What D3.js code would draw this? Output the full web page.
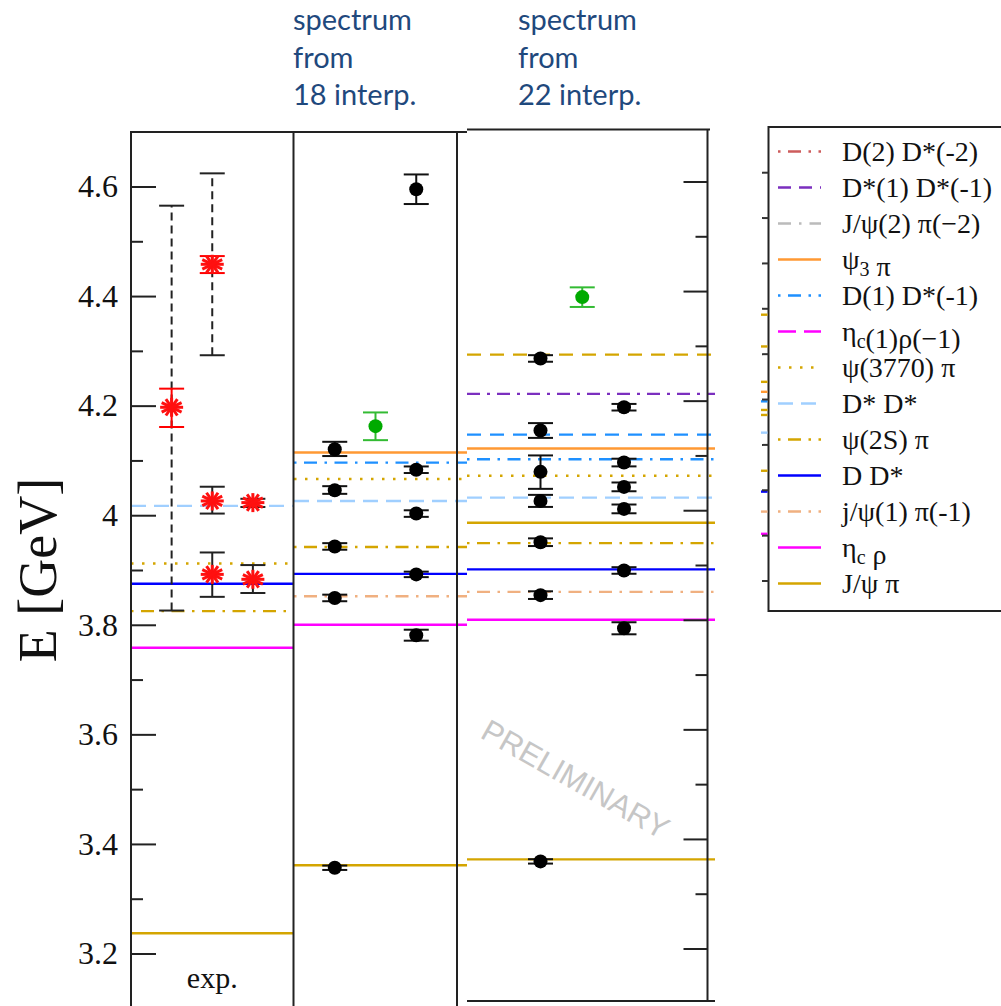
<!DOCTYPE html>
<html lang="en">
<head>
<meta charset="UTF-8">
<title>Spectrum from interpolators</title>
<script src="https://cdn.jsdelivr.net/npm/d3@7"></script>
<style>
  body{ margin:0; background:#fff; }
  svg{ display:block; }
</style>
</head>
<body>
<svg id="chart" width="1001" height="1006"></svg>
<script>
// ---------- data (energies in GeV) ----------
const yMajor = [3.2, 3.4, 3.6, 3.8, 4.0, 4.2, 4.4, 4.6];
const yMinor = [3.3, 3.5, 3.7, 3.9, 4.1, 4.3, 4.5];

const legendKeys = ['D2Ds2','Ds1Ds1','Jpsi2pi2','psi3pi','D1Ds1','etac1rho1','psi3770pi',
                    'DsDs','psi2Spi','DDs','jpsi1pi1','etacrho','Jpsipi'];
const legendLabels = ['D(2) D*(-2)','D*(1) D*(-1)','J/ψ(2) π(−2)','ψ_3 π','D(1) D*(-1)',
                      'η_c(1)ρ(−1)','ψ(3770) π','D* D*','ψ(2S) π','D D*','j/ψ(1) π(-1)','η_c ρ','J/ψ π'];

// non-interacting levels drawn as horizontal lines
const expLevels = [
  {key:'DsDs', E:4.017}, {key:'psi3770pi', E:3.912}, {key:'DDs', E:3.875},
  {key:'psi2Spi', E:3.825}, {key:'etacrho', E:3.758}, {key:'Jpsipi', E:3.237}
];
const interp18Levels = [
  {key:'psi3pi', E:4.1145}, {key:'D1Ds1', E:4.096}, {key:'psi3770pi', E:4.066},
  {key:'DsDs', E:4.026}, {key:'psi2Spi', E:3.942}, {key:'DDs', E:3.893},
  {key:'jpsi1pi1', E:3.852}, {key:'etacrho', E:3.800}, {key:'Jpsipi', E:3.361}
];
const interp22Levels = [
  {key:'goldDash', E:4.284}, {key:'Ds1Ds1plot', E:4.2124}, {key:'blueDash', E:4.138},
  {key:'psi3pi', E:4.1127}, {key:'D1Ds1', E:4.093}, {key:'psi3770pi', E:4.063},
  {key:'DsDs', E:4.023}, {key:'Jpsipi', E:3.977}, {key:'psi2Spi', E:3.940},
  {key:'DDs', E:3.892}, {key:'jpsi1pi1', E:3.851}, {key:'etacrho', E:3.800},
  {key:'Jpsipi', E:3.3626}
];

// experiment: star positions, statistical (red) bars, widths (dashed) and other bars
const expStars = [
  {col:'a', E:4.197}, {col:'b', E:4.458}, {col:'b', E:4.026},
  {col:'b', E:3.892}, {col:'c', E:4.023}, {col:'c', E:3.883}
];
const expStat = [ {col:'a', lo:4.161, hi:4.231}, {col:'b', lo:4.442, hi:4.473} ];
const expWidth = [ {col:'a', lo:3.826, hi:4.565}, {col:'b', lo:4.292, hi:4.624} ];
const expErr = [
  {col:'b', lo:4.003, hi:4.052}, {col:'b', lo:3.851, hi:3.932},
  {col:'c', lo:4.015, hi:4.030}, {col:'c', lo:3.858, hi:3.909}
];

// lattice levels: col a / c = two irreps, b = green level
const interp18Points = [
  {col:'a', E:4.1205, lo:4.108, hi:4.134}, {col:'a', E:4.0457, lo:4.039, hi:4.053},
  {col:'a', E:3.943, lo:3.937, hi:3.949}, {col:'a', E:3.849, lo:3.843, hi:3.855},
  {col:'a', E:3.3565, lo:3.3525, hi:3.3605},
  {col:'c', E:4.595, lo:4.568, hi:4.622}, {col:'c', E:4.083, lo:4.077, hi:4.089},
  {col:'c', E:4.003, lo:3.997, hi:4.009}, {col:'c', E:3.892, lo:3.887, hi:3.897},
  {col:'c', E:3.781, lo:3.771, hi:3.791},
  {col:'b', E:4.1626, lo:4.137, hi:4.1876, green:true}
];
const interp22Points = [
  {col:'a', E:4.277, lo:4.271, hi:4.283}, {col:'a', E:4.1456, lo:4.132, hi:4.159},
  {col:'a', E:4.070, lo:4.039, hi:4.100}, {col:'a', E:4.017, lo:4.006, hi:4.028},
  {col:'a', E:3.9416, lo:3.9346, hi:3.9486}, {col:'a', E:3.845, lo:3.838, hi:3.852},
  {col:'a', E:3.359, lo:3.355, hi:3.363},
  {col:'c', E:4.188, lo:4.182, hi:4.194}, {col:'c', E:4.087, lo:4.080, hi:4.094},
  {col:'c', E:4.0426, lo:4.0346, hi:4.0506}, {col:'c', E:4.0024, lo:3.9944, hi:4.0104},
  {col:'c', E:3.890, lo:3.884, hi:3.896}, {col:'c', E:3.7845, lo:3.7735, hi:3.7955},
  {col:'b', E:4.389, lo:4.371, hi:4.4068, green:true}
];

// bits of a cropped neighbouring panel visible at the legend's left edge
const cutTicks = [3.6, 3.7, 3.8, 3.9, 4.0, 4.1, 4.2, 4.3, 4.4, 4.5];
const cutLevels = [
  {key:'Jpsipi', E:4.187}, {key:'Jpsipi', E:4.117}, {key:'Jpsipi', E:4.039},
  {key:'psi3pi', E:4.017}, {key:'D1Ds1', E:3.996}, {key:'Jpsipi', E:3.977},
  {key:'psi3770pi', E:3.966}, {key:'DsDs', E:3.927}, {key:'psi2Spi', E:3.843},
  {key:'DDs', E:3.797}, {key:'jpsi1pi1', E:3.753}, {key:'etacrho', E:3.704}
];

// ---------- styles ----------
const gold = '#d4a500';
const dd = '2.5,7.5,13,7.5';
const sty = {
  D2Ds2:{c:'#cd5c5c', d:dd}, Ds1Ds1:{c:'#7b2fbf', d:'13,8'}, Jpsi2pi2:{c:'#bbbbbb', d:'13,8,2.5,8'},
  psi3pi:{c:'#ff9933', d:null}, D1Ds1:{c:'#1e90ff', d:dd}, etac1rho1:{c:'#ff00ff', d:'18,8'},
  psi3770pi:{c:gold, d:'2.5,8.5'}, DsDs:{c:'#a0cfff', d:'15,8'}, psi2Spi:{c:gold, d:dd},
  DDs:{c:'#0000ff', d:null}, jpsi1pi1:{c:'#f0b080', d:dd}, etacrho:{c:'#ff00ff', d:null},
  Jpsipi:{c:gold, d:null},
  goldDash:{c:gold, d:'14,9'}, Ds1Ds1plot:{c:'#7b2fbf', d:'13,7,3,7'}, blueDash:{c:'#1e90ff', d:'14,9'}
};

const svg = d3.select('#chart');
const serif = '"Liberation Serif","Times New Roman",serif';

// y scales: the right panel was pasted a few pixels higher
const yL = d3.scaleLinear().domain([3.2, 4.6]).range([953.5, 186.5]);
const yR = d3.scaleLinear().domain([3.2, 4.6]).range([948.5, 181.5]);
const yC = d3.scaleLinear().domain([3.6, 4.5]).range([581, 172.7]);

const panels = [
  {levels:expLevels, y:yL, x0:131, x1:293.5, lx0:131, lx1:293.5, pad:1},
  {levels:interp18Levels, y:yL, x0:294, x1:457, lx0:294, lx1:467, pad:1},
  {levels:interp22Levels, y:yR, x0:457, x1:707.5, lx0:467, lx1:715, pad:2}
];
panels.forEach(p => {
  p.x = d3.scalePoint().domain(['a','b','c']).range([p.x0, p.x1]).padding(p.pad);
});

// ---------- level lines ----------
panels.forEach(p => {
  svg.append('g').selectAll('line').data(p.levels).join('line')
    .attr('x1', p.lx0).attr('x2', p.lx1)
    .attr('y1', d => p.y(d.E)).attr('y2', d => p.y(d.E))
    .attr('stroke', d => sty[d.key].c)
    .attr('stroke-width', 2.4)
    .attr('stroke-dasharray', d => sty[d.key].d);
});

// ---------- frames ----------
const frame = svg.append('g').attr('stroke', '#222').attr('stroke-width', 2).attr('fill', 'none');
frame.append('line').attr('x1', 130).attr('x2', 467).attr('y1', 132).attr('y2', 132);
[131, 293.5, 457].forEach(x => frame.append('line').attr('x1', x).attr('x2', x).attr('y1', 132).attr('y2', 1006));
frame.append('line').attr('x1', 467).attr('x2', 710).attr('y1', 129.5).attr('y2', 129.5);
frame.append('line').attr('x1', 707.5).attr('x2', 707.5).attr('y1', 129.5).attr('y2', 1001);
frame.append('line').attr('x1', 467).attr('x2', 715).attr('y1', 1001).attr('y2', 1001);

// ---------- axes ----------
const fmt = d => d === 4 ? '4' : d3.format('.1f')(d);
const axL = svg.append('g').attr('transform', 'translate(131,0)')
  .call(d3.axisLeft(yL).tickValues(yMajor).tickSizeInner(-25).tickSizeOuter(0).tickPadding(13).tickFormat(fmt));
svg.append('g').attr('transform', 'translate(131,0)')
  .call(d3.axisLeft(yL).tickValues(yMinor).tickSizeInner(-12).tickSizeOuter(0).tickFormat(''));
svg.append('g').attr('transform', 'translate(707.5,0)')
  .call(d3.axisRight(yR).tickValues(yMajor).tickSizeInner(-24).tickSizeOuter(0).tickFormat(''));
svg.append('g').attr('transform', 'translate(707.5,0)')
  .call(d3.axisRight(yR).tickValues(yMinor).tickSizeInner(-12).tickSizeOuter(0).tickFormat(''));
svg.selectAll('.domain').remove();
svg.selectAll('.tick line').attr('stroke', '#222').attr('stroke-width', 2);
axL.selectAll('.tick text').attr('font-family', serif).attr('font-size', 32).attr('fill', '#111');

svg.append('text')
  .attr('transform', 'translate(56,570) rotate(-90)')
  .attr('text-anchor', 'middle')
  .attr('font-family', serif).attr('font-size', 54).attr('fill', '#111')
  .text('E [GeV]');

// ---------- error bars ----------
function errBar(g, x, y0, y1, color, dashed){
  g.append('line').attr('x1', x).attr('x2', x).attr('y1', y0).attr('y2', y1)
    .attr('stroke', color).attr('stroke-width', 2).attr('stroke-dasharray', dashed ? '8,5' : null);
  [y0, y1].forEach(y => g.append('line').attr('x1', x - 12.5).attr('x2', x + 12.5)
    .attr('y1', y).attr('y2', y).attr('stroke', color).attr('stroke-width', 2));
}

// experiment panel
const pe = panels[0];
const ge = svg.append('g');
expWidth.forEach(d => errBar(ge, pe.x(d.col), pe.y(d.lo), pe.y(d.hi), '#222', true));
expErr.forEach(d => errBar(ge, pe.x(d.col), pe.y(d.lo), pe.y(d.hi), '#222', false));
expStat.forEach(d => errBar(ge, pe.x(d.col), pe.y(d.lo), pe.y(d.hi), '#ff0000', false));
expStars.forEach(d => {
  const s = ge.append('g').attr('transform', `translate(${pe.x(d.col)},${pe.y(d.E)})`);
  d3.range(6).forEach(i => {
    const a = i * Math.PI / 6;
    s.append('line')
      .attr('x1', -11.5 * Math.cos(a)).attr('x2', 11.5 * Math.cos(a))
      .attr('y1', -9.5 * Math.sin(a)).attr('y2', 9.5 * Math.sin(a))
      .attr('stroke', '#ff1010').attr('stroke-width', 3);
  });
});
svg.append('text').attr('x', pe.x('b')).attr('y', 988).attr('text-anchor', 'middle')
  .attr('font-family', serif).attr('font-size', 30).attr('fill', '#111').text('exp.');

// lattice panels
[[panels[1], interp18Points], [panels[2], interp22Points]].forEach(([p, pts]) => {
  const g = svg.append('g');
  pts.forEach(d => {
    const x = p.x(d.col);
    const col = d.green ? '#33bb33' : '#111';
    errBar(g, x, p.y(d.lo), p.y(d.hi), col, false);
    g.append('circle').attr('cx', x).attr('cy', p.y(d.E)).attr('r', 7)
      .attr('fill', d.green ? '#00aa00' : '#000');
  });
});

// ---------- titles ----------
const titles = [
  {x:293, lines:['spectrum','from','18 interp.']},
  {x:518, lines:['spectrum','from','22 interp.']}
];
titles.forEach(t => {
  svg.append('g').selectAll('text').data(t.lines).join('text')
    .attr('x', t.x).attr('y', (d, i) => 30 + i * 37.5)
    .attr('font-family', 'Lato, "Open Sans", sans-serif').attr('font-size', 29)
    .attr('fill', '#1f497d').text(d => d);
});

// watermark
svg.append('text')
  .attr('transform', 'translate(479,737) rotate(29.5)')
  .attr('font-family', '"Liberation Sans", Arial, sans-serif').attr('font-size', 31)
  .attr('fill', '#c6c6c6').text('PRELIMINARY');

// ---------- legend ----------
const lg = svg.append('g');
lg.append('rect').attr('x', 768.5).attr('y', 127).attr('width', 300).attr('height', 484)
  .attr('fill', '#fff').attr('stroke', '#222').attr('stroke-width', 2);
lg.selectAll('line.cut').data(cutLevels).join('line')
  .attr('x1', 761).attr('x2', 767.5)
  .attr('y1', d => yC(d.E)).attr('y2', d => yC(d.E))
  .attr('stroke', d => sty[d.key].c).attr('stroke-width', 2.4);
lg.selectAll('line.ct').data(cutTicks).join('line')
  .attr('x1', 762).attr('x2', 768.5)
  .attr('y1', d => yC(d)).attr('y2', d => yC(d))
  .attr('stroke', '#333').attr('stroke-width', 2);

const rowY = i => 151.5 + i * 36;
legendKeys.forEach((k, i) => {
  lg.append('line').attr('x1', 778).attr('x2', 821)
    .attr('y1', rowY(i)).attr('y2', rowY(i))
    .attr('stroke', sty[k].c).attr('stroke-width', 2.6)
    .attr('stroke-dasharray', sty[k].d);
  const t = lg.append('text').attr('x', 842).attr('y', rowY(i) + 9.5)
    .attr('font-family', serif).attr('font-size', 28).attr('fill', '#111');
  const parts = legendLabels[i].split(/_(.)/);
  parts.forEach((s, j) => {
    if (!s) return;
    if (j % 2 === 1) {
      t.append('tspan').attr('dy', 7).attr('font-size', 20).text(s);
      t.append('tspan').attr('dy', -7).text('');
    } else {
      t.append('tspan').text(s);
    }
  });
});
</script>
</body>
</html>
